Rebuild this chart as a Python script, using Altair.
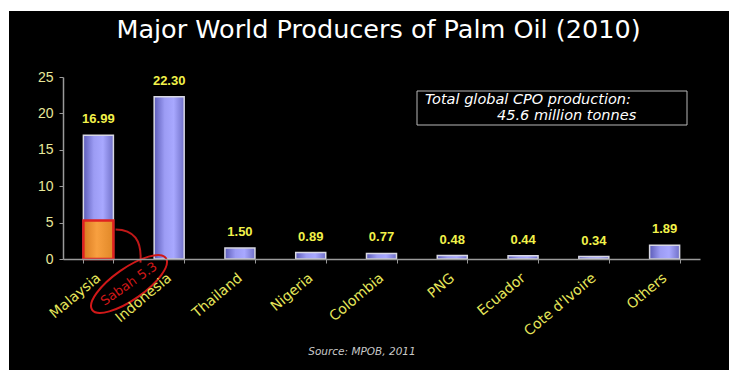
import altair as alt
import pandas as pd

countries = ["Malaysia", "Indonesia", "Thailand", "Nigeria", "Colombia",
             "PNG", "Ecuador", "Cote d'Ivoire", "Others"]
production = [16.99, 22.30, 1.50, 0.89, 0.77, 0.48, 0.44, 0.34, 1.89]
sabah_value = 5.3
y_ticks = [0, 5, 10, 15, 20, 25]
title_text = "Major World Producers of Palm Oil (2010)"
box_lines = ["Total global CPO production:", "45.6 million tonnes"]
source_text = "Source: MPOB, 2011"

df = pd.DataFrame({"country": countries, "value": production,
                   "label": [f"{v:.2f}" for v in production]})
sabah_df = pd.DataFrame({"country": ["Malaysia"], "value": [sabah_value],
                         "label": [f"Sabah {sabah_value}"]})

W, H = 637, 182
FONT = "Liberation Sans"
WIDE = "DejaVu Sans"

xscale = alt.Scale(domain=countries, paddingInner=0.576, paddingOuter=0.288)
yscale = alt.Scale(domain=[0, 25])

x_axis = alt.Axis(labelAngle=320, labelAlign="right", labelBaseline="middle",
                  labelPadding=13, labelColor="#e6e65a", labelFontSize=14,
                  labelFont=WIDE, domainColor="#9a9a9a", tickColor="#9a9a9a",
                  tickBand="extent", tickSize=4, domainWidth=1.5, zindex=1,
                  labelOverlap=False)
y_axis = alt.Axis(values=y_ticks, labelColor="#e8e89a",
                  labelFontSize=14, labelFont=FONT, domainColor="#9a9a9a",
                  tickColor="#9a9a9a", tickSize=4, grid=False, labelPadding=6,
                  domainWidth=1.5, zindex=1, labelOverlap=False, labelFlush=False)
x_enc = alt.X("country:N", sort=countries, scale=xscale, title=None, axis=x_axis)
y_enc = alt.Y("value:Q", scale=yscale, title=None, axis=y_axis)

blue_grad = alt.LinearGradient(gradient="linear", x1=0, x2=1, y1=0, y2=0, stops=[
    alt.GradientStop(color="#5c5cb8", offset=0),
    alt.GradientStop(color="#9c9cf4", offset=0.35),
    alt.GradientStop(color="#a8a8ff", offset=0.65),
    alt.GradientStop(color="#7070c8", offset=1)])
orange_grad = alt.LinearGradient(gradient="linear", x1=0, x2=1, y1=0, y2=0, stops=[
    alt.GradientStop(color="#d87a20", offset=0),
    alt.GradientStop(color="#f8a040", offset=0.45),
    alt.GradientStop(color="#e08828", offset=1)])

bg = alt.Chart(pd.DataFrame({"a": [0]})).mark_rect(color="black").encode(
    x=alt.value(-54), x2=alt.value(W + 40), y=alt.value(-66), y2=alt.value(H + 120))

bars = alt.Chart(df).mark_bar(fill=blue_grad, stroke="#d8d8e4", strokeWidth=1.5).encode(
    x=x_enc, y=y_enc)

sabah_bar = alt.Chart(sabah_df).mark_bar(fill=orange_grad, stroke="#e02020",
                                         strokeWidth=2.5).encode(x=x_enc, y=y_enc)

labels = alt.Chart(df).mark_text(color="#f2f24a", fontWeight="bold", fontSize=13,
                                 font=FONT, baseline="bottom", dy=-9).encode(
    x=x_enc, y=y_enc, text="label:N")

ellipse = alt.Chart(sabah_df).mark_point(
    shape="M -1 0 A 1 0.35 0 1 1 1 0 A 1 0.35 0 1 1 -1 0 Z",
    filled=False, stroke="#d01818", strokeWidth=2, size=8100, angle=325, opacity=1).encode(
    x=alt.value(66), y=alt.value(207))

sabah_text = alt.Chart(sabah_df).mark_text(color="#d01818", fontSize=13, font=WIDE,
                                           angle=325).encode(
    x=alt.value(66), y=alt.value(207), text="label:N")

arc = alt.Chart(sabah_df).mark_point(
    shape="M -0.75 -1 Q 0.9 -1 0.75 1", filled=False, stroke="#c01818",
    strokeWidth=2, size=1100, opacity=1).encode(
    x=alt.value(65), y=alt.value(169))

box = alt.Chart(pd.DataFrame({"a": [0]})).mark_rect(fill="black", stroke="#b8b8b8",
                                                     strokeWidth=1).encode(
    x=alt.value(354), x2=alt.value(624), y=alt.value(14), y2=alt.value(48))

box_t1 = alt.Chart(pd.DataFrame({"t": [box_lines[0]]})).mark_text(
    color="white", fontStyle="italic", fontSize=14.5, font=WIDE, align="left").encode(
    x=alt.value(362), y=alt.value(23), text="t:N")
box_t2 = alt.Chart(pd.DataFrame({"t": [box_lines[1]]})).mark_text(
    color="white", fontStyle="italic", fontSize=14.5, font=WIDE, align="left").encode(
    x=alt.value(434), y=alt.value(39), text="t:N")

title = alt.Chart(pd.DataFrame({"t": [title_text]})).mark_text(
    color="white", fontSize=25.5, font=WIDE).encode(
    x=alt.value(W / 2 - 3), y=alt.value(-47), text="t:N")

source = alt.Chart(pd.DataFrame({"t": [source_text]})).mark_text(
    color="#c8c8c8", fontStyle="italic", fontSize=10.5, font=WIDE).encode(
    x=alt.value(299), y=alt.value(275), text="t:N")

chart = alt.layer(bg, bars, sabah_bar, labels, arc, ellipse, sabah_text, box, box_t1,
                  box_t2, title, source).properties(
    width=W, height=H, background="white",
    autosize=alt.AutoSizeParams(type="none"),
    padding={"left": 63, "top": 77, "right": 29, "bottom": 111}
).configure_view(stroke=None)

chart.save("out.html", embed_options={"renderer": "svg", "actions": False})
